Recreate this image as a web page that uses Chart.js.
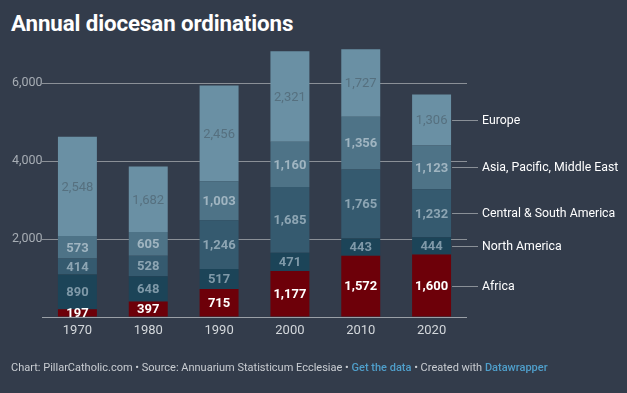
<!DOCTYPE html>
<html>
<head>
<meta charset="utf-8">
<script src="https://cdn.jsdelivr.net/npm/chart.js@4"></script>
<style>
  html, body { margin:0; padding:0; background:#333c4b; }
  #wrap { position:relative; width:627px; height:393px; overflow:hidden; font-family: Roboto, "Noto Sans", sans-serif; }
  #title { position:absolute; left:11px; top:10px; color:#ffffff; font-weight:700; font-size:22.3px; letter-spacing:-0.1px; }
  #foot { position:absolute; left:11px; top:361px; color:#c9cdd2; font-size:11px; white-space:nowrap; }
  #foot .lnk { color:#4f9fcb; font-weight:500; }
  canvas { position:absolute; left:0; top:0; }
</style>
</head>
<body>
<div id="wrap">
  <div id="title">Annual diocesan ordinations</div>
  <canvas id="c" width="627" height="393"></canvas>
  <div id="foot">Chart: PillarCatholic.com • Source: Annuarium Statisticum Ecclesiae • <span class="lnk">Get the data</span> • Created with <span class="lnk">Datawrapper</span></div>
</div>
<script>
const years = ["1970", "1980", "1990", "2000", "2010", "2020"];
const africa = [197, 397, 715, 1177, 1572, 1600];
const northAmerica = [890, 648, 517, 471, 443, 444];
const centralSouthAmerica = [414, 528, 1246, 1685, 1765, 1232];
const asiaPacificMiddleEast = [573, 605, 1003, 1160, 1356, 1123];
const europe = [2548, 1682, 2456, 2321, 1727, 1306];
const seriesNames = ["Africa", "North America", "Central & South America", "Asia, Pacific, Middle East", "Europe"];
const yTicks = [0, 2000, 4000, 6000];
const yMax = 7000;

const fills = ["#6d0009", "#1c4458", "#355a6f", "#4e7387", "#6a90a4"];
const labelColors = ["#ffffff", "#7f99a8", "#8da5b3", "#a0b5c1", "#56707f"];
const labelWeights = ["700", "700", "700", "700", "400"];
const seriesData = [africa, northAmerica, centralSouthAmerica, asiaPacificMiddleEast, europe];

const fmt = v => v.toLocaleString("en-US");

const labelPlugin = {
  id: "segLabels",
  afterDatasetsDraw(chart) {
    const ctx = chart.ctx;
    ctx.save();
    ctx.textAlign = "center";
    ctx.textBaseline = "middle";
    chart.data.datasets.forEach((ds, di) => {
      const meta = chart.getDatasetMeta(di);
      ctx.font = labelWeights[di] + " 13px Roboto";
      ctx.fillStyle = labelColors[di];
      meta.data.forEach((el, i) => {
        const yc = (el.y + el.base) / 2;
        ctx.fillText(fmt(ds.data[i]), el.x, yc + 1);
      });
      const last = meta.data[meta.data.length - 1];
      const yc = Math.round((last.y + last.base) / 2) + 0.5;
      const xr = last.x + last.width / 2;
      ctx.strokeStyle = "#8a9097";
      ctx.lineWidth = 1;
      ctx.beginPath();
      ctx.moveTo(xr + 1, yc);
      ctx.lineTo(478, yc);
      ctx.stroke();
      ctx.font = "400 12.3px Roboto";
      ctx.fillStyle = "#ffffff";
      ctx.textAlign = "left";
      ctx.fillText(seriesNames[di], 482, yc + 0.5);
      ctx.textAlign = "center";
    });
    ctx.restore();
  }
};

new Chart(document.getElementById("c"), {
  type: "bar",
  data: {
    labels: years,
    datasets: seriesNames.map((n, i) => ({
      label: n,
      data: seriesData[i],
      backgroundColor: fills[i],
      borderWidth: 0,
      barPercentage: 0.55,
      categoryPercentage: 1.0
    }))
  },
  options: {
    responsive: false,
    animation: false,
    events: [],
    layout: { padding: { top: 44, left: 12, right: 160, bottom: 0 } },
    plugins: { legend: { display: false }, tooltip: { enabled: false } },
    scales: {
      x: {
        stacked: true,
        grid: { display: false, drawTicks: false },
        border: { display: false },
        ticks: { color: "#d3d7db", font: { family: "Roboto", size: 13 }, padding: 6 },
        afterFit(s) { s.height = 76; }
      },
      y: {
        stacked: true,
        min: 0,
        max: yMax,
        z: 1,
        border: { display: false },
        afterBuildTicks(s) { s.ticks = yTicks.map(v => ({ value: v })); },
        afterFit(s) { s.width = 30; },
        grid: {
          drawTicks: false,
          color: ctx => ctx.tick && ctx.tick.value === 0 ? "#9aa0a7" : "#8b9097",
          lineWidth: 1
        },
        ticks: {
          crossAlign: "far",
          padding: 0,
          color: "#a7adb4",
          font: { family: "Roboto", size: 12.5 },
          callback: v => v === 0 ? "" : fmt(v)
        }
      }
    }
  },
  plugins: [labelPlugin]
});
</script>
</body>
</html>
